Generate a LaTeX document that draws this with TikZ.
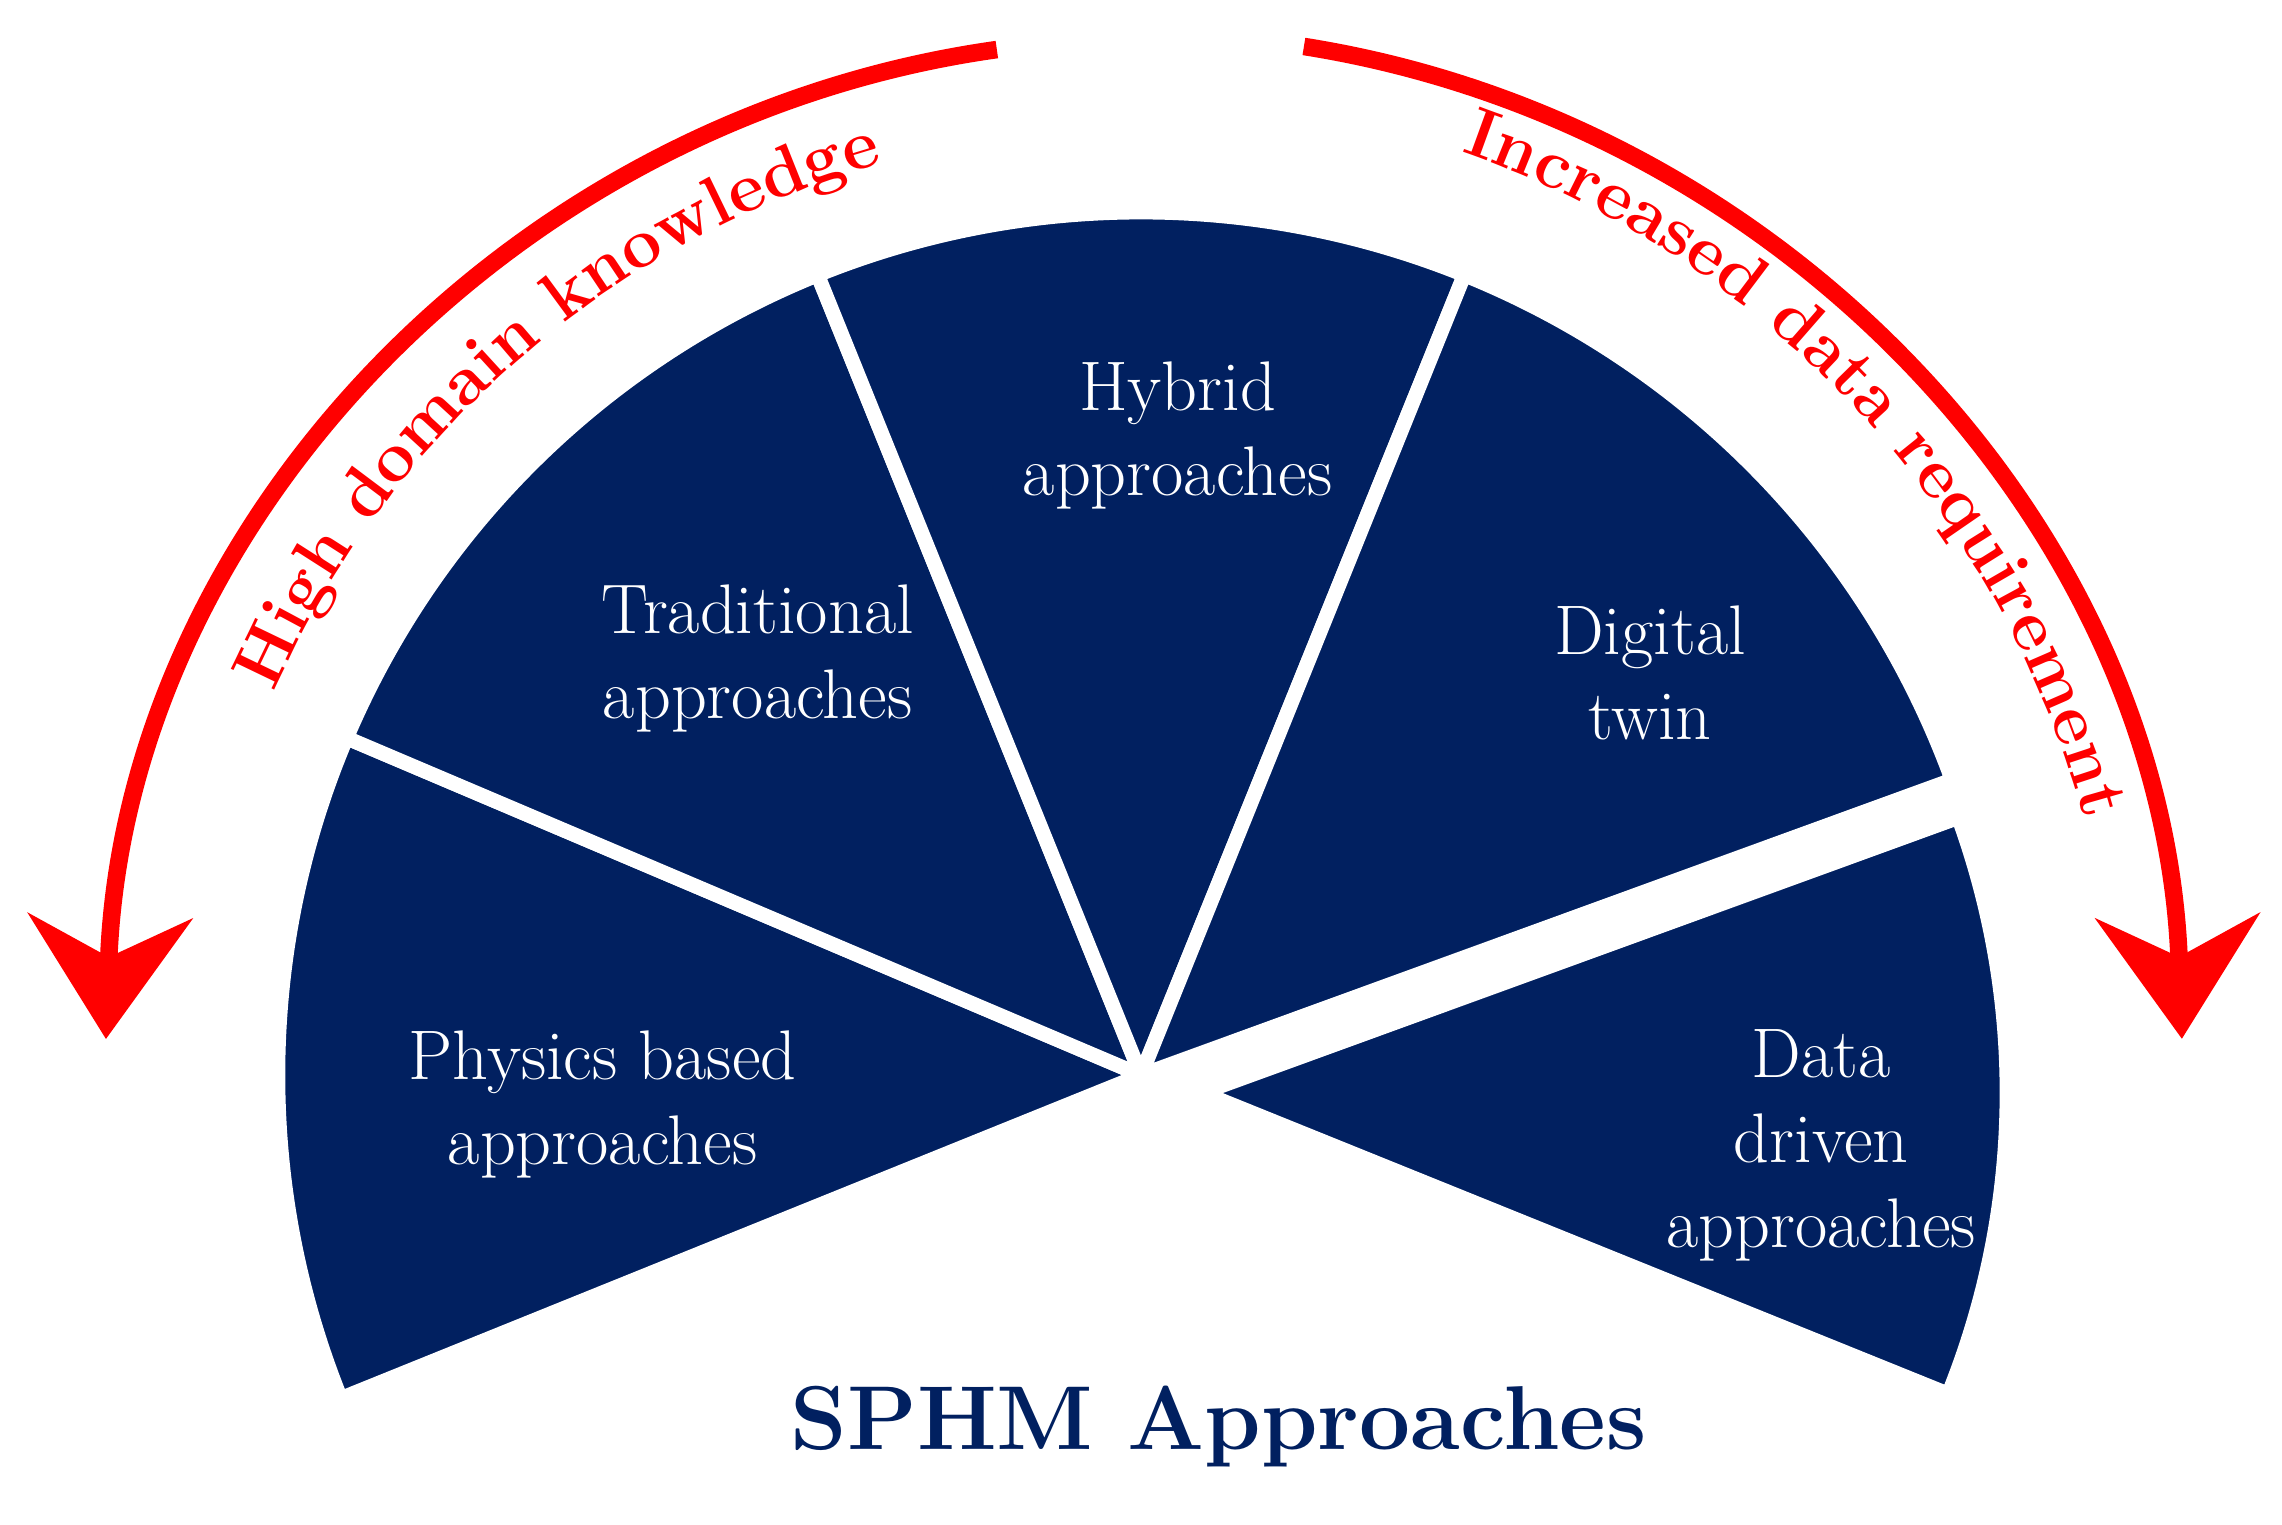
\documentclass[tikz,border=0pt]{standalone}
\usetikzlibrary{arrows.meta,decorations.text}
\definecolor{navy}{RGB}{1,32,96}
\begin{document}
\begin{tikzpicture}[x=0.5pt,y=0.5pt,
  wedge/.style={fill=navy,draw=white,line width=5pt,line join=miter},
  lab/.style={text=white,font=\fontsize{24}{29}\selectfont,align=center},
  redarc/.style={red,line width=6pt,-{Stealth[length=42pt,width=56pt,inset=14pt]}}]
\useasboundingbox (-780,-307) rectangle (780,735);
\fill[wedge] (0,0) -- (202:590) arc[start angle=202,end angle=157,radius=590] -- cycle;
\fill[wedge] (0,0) -- (157:590) arc[start angle=157,end angle=112,radius=590] -- cycle;
\fill[wedge] (0,0) -- (112:590) arc[start angle=112,end angle=68,radius=590] -- cycle;
\fill[wedge] (0,0) -- (68:590) arc[start angle=68,end angle=20,radius=590] -- cycle;
\fill[wedge] (42,-12) -- ++(-22:550) arc[start angle=-22,end angle=20,radius=550] -- cycle;
\node[lab] (phys) at (-368,-20) {Physics based\\approaches};
\node[lab] (trad) at (-262,285) {Traditional\\approaches};
\node[lab] (hyb) at (25,437) {Hybrid\\approaches};
\node[lab] (dt) at (348,275) {Digital\\twin};
\node[lab] (dd) at (465,-48) {Data\\driven\\approaches};
\node[text=navy,font=\fontsize{31}{36}\selectfont\bfseries] (title) at (53,-240) {SPHM Approaches};
\draw[redarc] (98:708) arc[start angle=98,end angle=178,radius=708];
\draw[redarc] (81:712) arc[start angle=81,end angle=2,radius=712];
\path[decorate,decoration={text along path,text align=center,text color=red,
  text={|\fontsize{24}{24}\selectfont\bfseries|High domain knowledge}}]
  (156:648) arc[start angle=156,end angle=106,radius=648];
\path[decorate,decoration={text along path,text align=center,text color=red,
  text={|\fontsize{24}{24}\selectfont\bfseries|Increased data requirement}}]
  (72:668) arc[start angle=72,end angle=14,radius=668];
\end{tikzpicture}
\end{document}
